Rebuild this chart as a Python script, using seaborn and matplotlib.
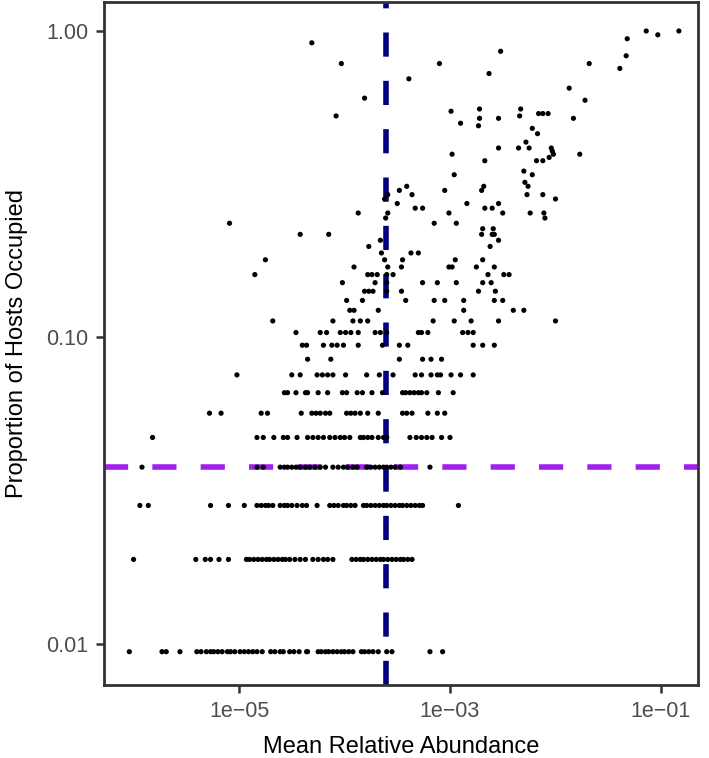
import numpy as np
import pandas as pd
import matplotlib
matplotlib.use("Agg")
import matplotlib.pyplot as plt
import seaborn as sns

# ---- data ----
N_HOSTS = 106  # proportion = hosts occupied / N_HOSTS

# log10(mean relative abundance) of taxa, grouped by number of hosts occupied
log_abund_k01 = [-6.04, -5.73, -5.69, -5.56, -5.40, -5.36, -5.31, -5.27, -5.24, -5.20, -5.16, -5.11,
                 -5.08, -5.04, -4.99, -4.95, -4.91, -4.87, -4.83, -4.78, -4.70, -4.66, -4.61, -4.58,
                 -4.52, -4.48, -4.43, -4.36, -4.35, -4.25, -4.22, -4.18, -4.15, -4.11, -4.07, -4.03,
                 -4.00, -3.96, -3.92, -3.84, -3.81, -3.77, -3.73, -3.68, -3.60, -3.55, -3.19, -3.07]
log_abund_k02 = [-6.00, -5.41, -5.32, -5.27, -5.19, -5.10, -4.93, -4.90, -4.86, -4.82, -4.78, -4.74,
                 -4.71, -4.67, -4.63, -4.59, -4.56, -4.52, -4.47, -4.42, -4.37, -4.30, -4.25, -4.20,
                 -4.16, -4.11, -3.93, -3.89, -3.85, -3.82, -3.78, -3.74, -3.70, -3.66, -3.63, -3.59,
                 -3.55, -3.51, -3.47, -3.44, -3.40, -3.36]
log_abund_k03 = [-5.94, -5.86, -5.27, -5.10, -4.95, -4.83, -4.79, -4.75, -4.72, -4.68, -4.61, -4.57,
                 -4.54, -4.50, -4.45, -4.40, -4.36, -4.26, -4.14, -4.10, -4.06, -4.01, -3.98, -3.94,
                 -3.90, -3.82, -3.79, -3.75, -3.71, -3.67, -3.63, -3.60, -3.56, -3.52, -3.48, -3.45,
                 -3.41, -3.37, -3.33, -3.29, -3.26, -2.92]
log_abund_k04 = [-5.92, -4.83, -4.77, -4.61, -4.57, -4.54, -4.50, -4.46, -4.42, -4.37, -4.33, -4.28,
                 -4.23, -4.18, -4.11, -4.06, -4.01, -3.97, -3.92, -3.88, -3.79, -3.75, -3.71, -3.67,
                 -3.63, -3.60, -3.56, -3.52, -3.47, -3.19]
log_abund_k05 = [-5.82, -4.83, -4.77, -4.67, -4.58, -4.54, -4.45, -4.35, -4.30, -4.25, -4.20, -4.14,
                 -4.09, -4.04, -4.00, -3.95, -3.85, -3.82, -3.78, -3.74, -3.68, -3.63, -3.60, -3.38,
                 -3.32, -3.27, -3.22, -3.17, -3.08, -3.00]
log_abund_k06 = [-5.28, -5.17, -4.79, -4.73, -4.41, -4.31, -4.27, -4.23, -4.18, -4.14, -3.98, -3.94,
                 -3.90, -3.85, -3.78, -3.68, -3.45, -3.41, -3.36, -3.21, -3.12, -3.05]
log_abund_k07 = [-4.57, -4.54, -4.46, -4.37, -4.35, -4.25, -4.16, -4.02, -3.98, -3.88, -3.83, -3.74,
                 -3.64, -3.45, -3.42, -3.38, -3.34, -3.30, -3.27, -3.22, -3.11, -2.97]
log_abund_k08 = [-5.02, -4.50, -4.42, -4.26, -4.21, -4.16, -4.11, -3.99, -3.79, -3.67, -3.54, -3.33,
                 -3.27, -3.18, -3.12, -3.09, -2.99, -2.90, -2.78]
log_abund_k09 = [-4.35, -4.13, -3.48, -3.26, -3.18, -3.08]
log_abund_k10 = [-4.40, -4.36, -4.20, -4.12, -4.07, -4.01, -3.87, -3.64, -3.48, -3.40, -2.78, -2.69, -2.58]
log_abund_k11 = [-4.46, -4.23, -4.17, -4.04, -3.99, -3.94, -3.87, -3.71, -3.66, -3.60, -3.30, -3.27,
                 -3.21, -2.88, -2.83, -2.78]
log_abund_k12 = [-4.68, -4.11, -3.92, -3.85, -3.78, -3.16, -2.96, -2.80, -2.54, -2.00]
log_abund_k13 = [-3.95, -3.91, -3.68, -2.87, -2.40, -2.30]
log_abund_k14 = [-3.98, -3.83, -3.42, -3.15, -3.05, -2.87, -2.58, -2.50]
log_abund_k15 = [-3.81, -3.77, -3.73, -3.60, -3.46, -2.73, -2.57]
log_abund_k16 = [-4.02, -3.71, -3.60, -3.26, -3.12, -2.94, -2.69, -2.61]
log_abund_k17 = [-3.78, -3.74, -3.69, -3.60, -3.54, -2.64, -2.49, -2.44]

# sparser upper part: (hosts occupied, log10 abundance)
upper_hosts = [18, 18, 18, 18, 18, 18, 18, 19, 19, 19, 19, 20, 20, 20, 21, 21, 22, 22,
               23, 23, 23, 23, 23, 24, 24, 25, 25, 26, 26, 27, 27, 27, 27, 27, 27,
               28, 28, 28, 28, 29, 29, 29, 30, 30, 31, 31, 31, 31, 32, 32, 32, 33, 33, 33, 34,
               36, 37, 36, 40, 40, 40, 42, 41, 42, 42, 43, 44, 44, 44, 44, 46, 49, 51, 52, 53,
               55, 55, 55, 56, 57, 57, 57, 58, 59, 59, 63, 69, 80, 83, 88, 100, 106, 103, 106,
               56, 64, 74, 77, 83, 83, 91, 97, 25, 19, 17]
upper_log_abund = [-3.91, -3.59, -3.46, -3.01, -2.98, -2.75, -2.58, -3.62, -3.45, -2.95, -2.69,
                   -3.65, -3.37, -3.30, -3.77, -2.62, -3.66, -2.54,
                   -4.42, -4.15, -2.70, -2.60, -2.58, -2.69, -2.59, -3.15, -2.94, -3.61, -2.10,
                   -3.87, -3.59, -3.01, -2.50, -2.24, -2.11,
                   -3.33, -3.26, -2.67, -2.60, -3.50, -2.84, -2.54, -3.62, -2.00,
                   -3.59, -3.36, -2.27, -2.12, -3.48, -3.05, -2.70, -3.41, -2.68, -2.26, -2.29,
                   -2.96, -2.30, -2.22, -2.67, -2.18, -2.12, -2.98, -2.06, -2.02, -1.77, -2.03,
                   -2.54, -2.35, -2.25, -2.04, -2.28, -2.17, -2.22, -2.73, -2.90,
                   -2.72, -2.54, -1.83, -2.34, -2.16, -2.12, -2.07, -2.99, -2.72, -2.33,
                   -1.72, -1.87, -1.39, -1.68, -1.33, -1.32, -1.14, -1.03, -0.83,
                   -4.08, -3.81, -3.39, -2.63, -4.03, -3.10, -2.52, -4.31, -5.09, -4.75, -4.85]

# reference lines
vline_abund = 2.45e-4
hline_prop = 4 / N_HOSTS

x_ticks = [1e-5, 1e-3, 1e-1]
x_tick_labels = ["1e\u221205", "1e\u221203", "1e\u221201"]
y_ticks = [0.01, 0.10, 1.00]
y_tick_labels = ["0.01", "0.10", "1.00"]

# ---- assemble ----
rows = [log_abund_k01, log_abund_k02, log_abund_k03, log_abund_k04, log_abund_k05, log_abund_k06,
        log_abund_k07, log_abund_k08, log_abund_k09, log_abund_k10, log_abund_k11, log_abund_k12,
        log_abund_k13, log_abund_k14, log_abund_k15, log_abund_k16, log_abund_k17]
hosts, logs = [], []
for k, vals in enumerate(rows, start=1):
    hosts += [k] * len(vals)
    logs += vals
hosts += upper_hosts
logs += upper_log_abund
df = pd.DataFrame({"abund": np.power(10.0, logs), "prop": np.array(hosts) / N_HOSTS})

# ---- plot ----
sns.set_theme(style="white")
plt.rcParams["font.family"] = ["Liberation Sans", "DejaVu Sans"]

fig = plt.figure(figsize=(7.09, 7.58), dpi=100)
ax = fig.add_axes([104 / 709, 1 - 685 / 758, (698 - 104) / 709, (685 - 2) / 758])

sns.scatterplot(data=df, x="abund", y="prop", ax=ax, color="black", s=14,
                edgecolor="none", linewidth=0, zorder=3)
ax.set_xscale("log")
ax.set_yscale("log")
ax.set_xlim(10 ** -6.28, 10 ** -0.649)
ax.set_ylim(10 ** -2.134, 10 ** 0.0946)

ax.axvline(vline_abund, color="#000080", lw=4.0, dashes=(4.35, 4.35), zorder=2)
ax.axhline(hline_prop, color="#A020F0", lw=4.0, dashes=(4.35, 4.35), zorder=2)

ax.set_xticks(x_ticks)
ax.set_xticklabels(x_tick_labels)
ax.set_yticks(y_ticks)
ax.set_yticklabels(y_tick_labels)
ax.minorticks_off()
ax.tick_params(axis="both", which="major", direction="out", length=5.5, width=1.8,
               color="#333333", labelcolor="#4D4D4D", labelsize=15.5, pad=6, bottom=True, left=True)

for sp in ax.spines.values():
    sp.set_color("#333333")
    sp.set_linewidth(2.0)

ax.set_xlabel("Mean Relative Abundance", fontsize=17, color="black", labelpad=10)
ax.set_ylabel("Proportion of Hosts Occupied", fontsize=17, color="black", labelpad=13)
ax.grid(False)

fig.savefig("out.png", dpi=100)
